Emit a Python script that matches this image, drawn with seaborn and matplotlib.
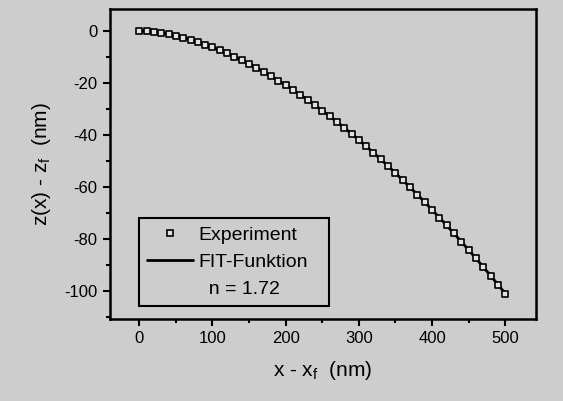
import matplotlib
matplotlib.use("Agg")
import matplotlib.pyplot as plt
import seaborn as sns
import pandas as pd
from matplotlib.lines import Line2D

x_nm = [0, 10, 20, 30, 40, 50, 60, 70, 80, 90, 100, 110, 120, 130, 140, 150, 160, 170,
        180, 190, 200, 210, 220, 230, 240, 250, 260, 270, 280, 290, 300, 310, 320, 330,
        340, 350, 360, 370, 380, 390, 400, 410, 420, 430, 440, 450, 460, 470, 480, 490, 500]
z_exp = [0.0, -0.12, -0.40, -0.80, -1.31, -1.92, -2.63, -3.43, -4.32, -5.29, -6.34, -7.47,
         -8.68, -9.96, -11.31, -12.74, -14.23, -15.79, -17.42, -19.12, -20.88, -22.72,
         -24.61, -26.56, -28.58, -30.66, -32.80, -35.00, -37.26, -39.58, -41.96, -44.39,
         -46.88, -49.43, -52.03, -54.68, -57.41, -60.18, -63.00, -65.87, -68.81, -71.79,
         -74.83, -77.92, -81.06, -84.26, -87.51, -90.80, -94.15, -97.56, -101.0]
z_fit = list(z_exp)

x_ticks = [0, 100, 200, 300, 400, 500]
y_ticks = [-100, -80, -60, -40, -20, 0]

df = pd.DataFrame({"x": x_nm, "exp": z_exp, "fit": z_fit})

sns.set_theme(style="ticks")
plt.rcParams['font.family'] = ['Liberation Sans', 'DejaVu Sans']
plt.rcParams['axes.unicode_minus'] = False
plt.rcParams['text.color'] = 'black'
plt.rcParams['axes.labelcolor'] = 'black'
bg = "#cdcdcd"
fig = plt.figure(figsize=(5.63, 4.01), dpi=100, facecolor=bg)
ax = fig.add_axes([0.1954, 0.2045, 0.7566, 0.7731])
ax.set_facecolor(bg)

sns.lineplot(data=df, x="x", y="fit", ax=ax, color="black", linewidth=2.0, zorder=2)
sns.scatterplot(data=df, x="x", y="exp", ax=ax, marker="s", s=22, facecolor="#e2e2e2",
                edgecolor="black", linewidth=1.2, zorder=3)

ax.set_xlim(-40, 542)
ax.set_ylim(-110.8, 8.4)
ax.set_xticks(x_ticks)
ax.set_yticks(y_ticks)
ax.set_xticks([50, 150, 250, 350, 450], minor=True)
ax.set_yticks([-110, -90, -70, -50, -30, -10], minor=True)
ax.tick_params(which="major", direction="out", length=5, width=1.5, labelsize=12,
               colors="black", pad=4)
ax.tick_params(which="minor", direction="out", length=3, width=1.5, colors="black")
for s in ax.spines.values():
    s.set_linewidth(1.8)
    s.set_color("black")

ax.set_xlabel("x - x$_\\mathregular{f}$  (nm)", fontsize=15, labelpad=9, color="black")
ax.set_ylabel("z(x) - z$_\\mathregular{f}$  (nm)", fontsize=15, labelpad=8, color="black")

handles = [Line2D([], [], marker="s", linestyle="none", markersize=5,
                  markerfacecolor="#e2e2e2", markeredgecolor="black", markeredgewidth=1.2),
           Line2D([], [], color="black", linewidth=2.0),
           Line2D([], [], linestyle="none")]
labels = ["Experiment", "FIT-Funktion", "  n = 1.72"]
leg = ax.legend(handles, labels, loc="lower left",
                bbox_to_anchor=(0.068, 0.042, 0.446, 0.303), mode="expand",
                borderaxespad=0, fontsize=14, frameon=True, fancybox=False,
                handlelength=2.4, handletextpad=0.25, borderpad=0.4, labelspacing=0.5)
for t in leg.get_texts():
    t.set_color("black")
frame = leg.get_frame()
frame.set_edgecolor("black")
frame.set_linewidth(1.5)
frame.set_facecolor(bg)
frame.set_alpha(1)

fig.savefig("out.png", dpi=100, facecolor=bg)
